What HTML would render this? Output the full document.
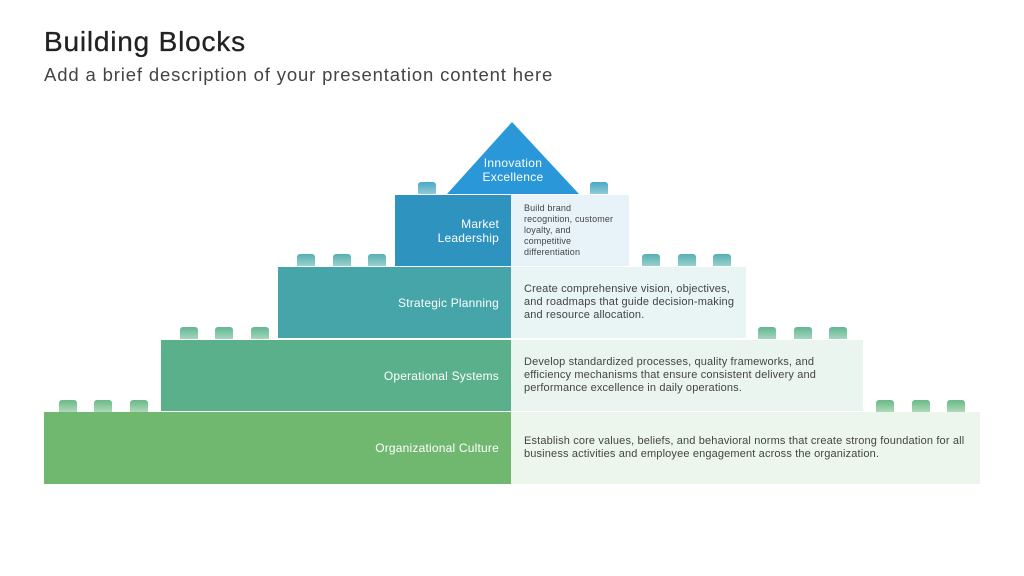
<!DOCTYPE html>
<html><head><style>
body{margin:0;width:1024px;height:576px;background:#fff;font-family:"Liberation Sans",sans-serif;position:relative;overflow:hidden}
.a{position:absolute}
.l{position:absolute;color:#fff;font-size:12px;letter-spacing:0.2px;text-align:right;display:flex;align-items:center;justify-content:flex-end;padding-right:12px;box-sizing:border-box}
.r{position:absolute;color:#444;font-size:11px;letter-spacing:0.15px;line-height:13px;display:flex;align-items:center;padding-left:13px;box-sizing:border-box}
.s{position:absolute;width:18px;height:12px;border-radius:3px 3px 0 0}
</style></head><body>
<div class="a" style="left:44px;top:26px;font-size:28px;letter-spacing:0.8px;color:#222;-webkit-text-stroke:0.3px #222">Building Blocks</div>
<div class="a" style="left:44px;top:64px;font-size:18.5px;letter-spacing:0.85px;color:#444">Add a brief description of your presentation content here</div>
<svg class="a" style="left:0;top:0" width="1024" height="576"><polygon points="512,122 447,194 579,194" fill="#2a98d8"/></svg>
<div class="a" style="left:447px;top:156px;width:132px;text-align:center;color:#fff;font-size:12px;letter-spacing:0.3px;line-height:14px">Innovation<br>Excellence</div>

<div class="l" style="left:395px;top:195px;width:116px;height:71px;background:#2f93bf;line-height:14px">Market<br>Leadership</div>
<div class="r" style="left:511px;top:195px;width:118px;height:71px;background:#e8f3f9;font-size:9px;line-height:11px">Build brand<br>recognition, customer<br>loyalty, and<br>competitive<br>differentiation</div>

<div class="l" style="left:278px;top:267px;width:233px;height:71px;background:#45a5a8">Strategic Planning</div>
<div class="r" style="left:511px;top:267px;width:235px;height:71px;background:#e9f4f4">Create comprehensive vision, objectives,<br>and roadmaps that guide decision-making<br>and resource allocation.</div>

<div class="l" style="left:161px;top:340px;width:350px;height:71px;background:#5ab08a">Operational Systems</div>
<div class="r" style="left:511px;top:340px;width:352px;height:71px;background:#ebf5ef">Develop standardized processes, quality frameworks, and<br>efficiency mechanisms that ensure consistent delivery and<br>performance excellence in daily operations.</div>

<div class="l" style="left:44px;top:412px;width:467px;height:72px;background:#70b870">Organizational Culture</div>
<div class="r" style="left:511px;top:412px;width:469px;height:72px;background:#edf6ec">Establish core values, beliefs, and behavioral norms that create strong foundation for all<br>business activities and employee engagement across the organization.</div>

<div class="s" style="left:418px;top:182px;background:linear-gradient(#4aa9c6,#8fcbd8)"></div>
<div class="s" style="left:590px;top:182px;background:linear-gradient(#4aa9c6,#8fcbd8)"></div>

<div class="s" style="left:297px;top:254px;background:linear-gradient(#55b0b2,#98d0cc)"></div>
<div class="s" style="left:333px;top:254px;background:linear-gradient(#55b0b2,#98d0cc)"></div>
<div class="s" style="left:368px;top:254px;background:linear-gradient(#55b0b2,#98d0cc)"></div>
<div class="s" style="left:642px;top:254px;background:linear-gradient(#55b0b2,#98d0cc)"></div>
<div class="s" style="left:678px;top:254px;background:linear-gradient(#55b0b2,#98d0cc)"></div>
<div class="s" style="left:713px;top:254px;background:linear-gradient(#55b0b2,#98d0cc)"></div>

<div class="s" style="left:180px;top:327px;background:linear-gradient(#62b694,#a4d6bc)"></div>
<div class="s" style="left:215px;top:327px;background:linear-gradient(#62b694,#a4d6bc)"></div>
<div class="s" style="left:251px;top:327px;background:linear-gradient(#62b694,#a4d6bc)"></div>
<div class="s" style="left:758px;top:327px;background:linear-gradient(#62b694,#a4d6bc)"></div>
<div class="s" style="left:794px;top:327px;background:linear-gradient(#62b694,#a4d6bc)"></div>
<div class="s" style="left:829px;top:327px;background:linear-gradient(#62b694,#a4d6bc)"></div>

<div class="s" style="left:59px;top:400px;background:linear-gradient(#6ab987,#acdab8)"></div>
<div class="s" style="left:94px;top:400px;background:linear-gradient(#6ab987,#acdab8)"></div>
<div class="s" style="left:130px;top:400px;background:linear-gradient(#6ab987,#acdab8)"></div>
<div class="s" style="left:876px;top:400px;background:linear-gradient(#6ab987,#acdab8)"></div>
<div class="s" style="left:912px;top:400px;background:linear-gradient(#6ab987,#acdab8)"></div>
<div class="s" style="left:947px;top:400px;background:linear-gradient(#6ab987,#acdab8)"></div>
</body></html>
